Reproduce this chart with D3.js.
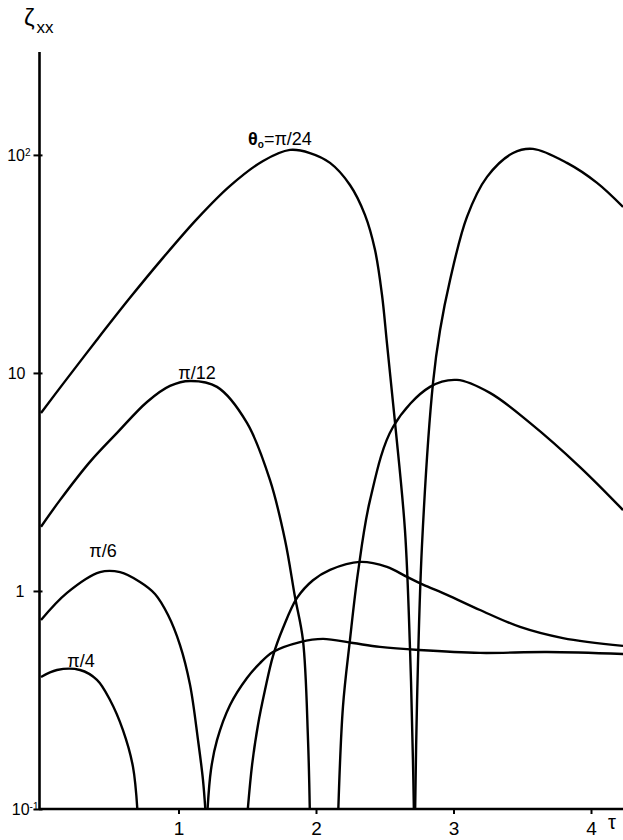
<!DOCTYPE html>
<html>
<head>
<meta charset="utf-8">
<script src="https://cdn.jsdelivr.net/npm/d3@7"></script>
<style>
  html, body { margin: 0; padding: 0; background: #fff; }
  svg { display: block; }
  text { font-family: "Liberation Sans Narrow", "Liberation Sans", Arial, sans-serif; fill: #000; }
</style>
</head>
<body>
<script>
// ---- Data ----
// theta0 = pi/24, first lobe
const tauPi24a  = [0, 0.16, 0.407, 0.647, 0.887, 1.135, 1.375, 1.615, 1.811, 1.956, 2.102, 2.247, 2.356, 2.429, 2.48, 2.516, 2.575, 2.647, 2.684, 2.705, 2.713];
const zetaPi24a = [6.55, 8.91, 14.2, 22.1, 33.7, 50.9, 72.1, 93.8, 105.4, 102, 91.9, 72.8, 53.1, 36.7, 22.8, 13.7, 5.9, 1.9, 0.536, 0.168, 0.09];
// theta0 = pi/24, second lobe
const tauPi24b  = [2.72, 2.735, 2.771, 2.851, 2.902, 2.975, 3.098, 3.244, 3.433, 3.578, 3.825, 4.044, 4.233];
const zetaPi24b = [0.09, 0.316, 1.63, 9.0, 15.7, 26.7, 52, 79.3, 102, 106.6, 91.9, 74.4, 57.7];
// theta0 = pi/12
const tauPi12a  = [0, 0.138, 0.356, 0.553, 0.771, 0.938, 1.084, 1.28, 1.498, 1.665, 1.775, 1.847, 1.905, 1.942, 1.956];
const zetaPi12a = [1.97, 2.61, 3.91, 5.31, 7.36, 8.72, 9.19, 8.63, 5.9, 3.23, 1.71, 0.94, 0.596, 0.207, 0.09];
const tauPi12b  = [2.16, 2.196, 2.247, 2.305, 2.393, 2.56, 2.829, 3.025, 3.265, 3.556, 3.92, 4.233];
const zetaPi12b = [0.09, 0.294, 0.596, 1.21, 2.61, 5.65, 8.63, 9.29, 8.1, 5.9, 3.7, 2.35];
// theta0 = pi/6
const tauPi6a   = [0, 0.189, 0.429, 0.575, 0.72, 0.829, 0.924, 1.011, 1.084, 1.142, 1.178, 1.2];
const zetaPi6a  = [0.736, 0.98, 1.22, 1.22, 1.10, 0.969, 0.776, 0.565, 0.371, 0.207, 0.136, 0.09];
const tauPi6b   = [1.207, 1.236, 1.28, 1.375, 1.498, 1.593, 1.687, 1.884, 2.051, 2.269, 2.465, 2.749, 3.193, 3.68, 4.233];
const zetaPi6b  = [0.09, 0.151, 0.207, 0.3, 0.399, 0.467, 0.525, 0.583, 0.603, 0.577, 0.554, 0.536, 0.52, 0.525, 0.514];
// theta0 = pi/4
const tauPi4a   = [0, 0.116, 0.284, 0.407, 0.502, 0.596, 0.669, 0.705];
const zetaPi4a  = [0.403, 0.434, 0.434, 0.391, 0.316, 0.23, 0.156, 0.09];
const tauPi4b   = [1.498, 1.535, 1.578, 1.629, 1.687, 1.76, 1.862, 1.978, 2.102, 2.32, 2.516, 2.662, 2.778, 2.953, 3.193, 3.484, 3.796, 4.233];
const zetaPi4b  = [0.09, 0.159, 0.243, 0.351, 0.503, 0.676, 0.929, 1.12, 1.25, 1.36, 1.29, 1.16, 1.07, 0.96, 0.818, 0.684, 0.608, 0.56];

// Curve labels (anchored in data coordinates)
const labelText = ["π/24", "π/12", "π/6", "π/4"];
const labelTau  = [1.738, 1.135, 0.451, 0.291];
const labelZeta = [111, 9.38, 1.43, 0.448];

// Axis ticks
const xTicks = [1, 2, 3, 4];
const xTickLabels = ["1", "2", "3", "4"];
const yTicks = [0.1, 1, 10, 100];
const yTickBase = ["10", "1", "10", "10"];
const yTickSup  = ["-1", "", "", "2"];

// ---- Drawing ----
const W = 623, H = 840;
const svg = d3.select("body").append("svg").attr("width", W).attr("height", H);

const x = d3.scaleLinear().domain([0, 4.24]).range([41, 624]);
const y = d3.scaleLog().domain([0.1, Math.pow(10, 2.472)]).range([809, 52]);

svg.append("defs").append("clipPath").attr("id", "plot")
  .append("rect").attr("x", 40).attr("y", 40).attr("width", W - 40).attr("height", 809 - 40);

const line = d3.line()
  .x(d => x(d[0]))
  .y(d => y(d[1]))
  .curve(d3.curveCatmullRom.alpha(0.5));

const series = [
  [tauPi24a, zetaPi24a], [tauPi24b, zetaPi24b],
  [tauPi12a, zetaPi12a], [tauPi12b, zetaPi12b],
  [tauPi6a, zetaPi6a],   [tauPi6b, zetaPi6b],
  [tauPi4a, zetaPi4a],   [tauPi4b, zetaPi4b]
];

const g = svg.append("g").attr("clip-path", "url(#plot)");
series.forEach(([t, z]) => {
  g.append("path")
    .datum(t.map((v, i) => [v, z[i]]))
    .attr("d", line)
    .attr("fill", "none")
    .attr("stroke", "#000")
    .attr("stroke-width", 2.4)
    .attr("stroke-linejoin", "round");
});

// X axis
const xAxis = d3.axisBottom(x).tickValues(xTicks).tickFormat((d, i) => xTickLabels[i]).tickSize(5).tickPadding(8);
const xg = svg.append("g").attr("transform", "translate(0,809)").call(xAxis);
xg.select(".domain").remove();
xg.selectAll(".tick line").attr("stroke", "#000").attr("stroke-width", 2);
xg.selectAll(".tick text").attr("font-size", 19).attr("fill", "#000")
  .style("font-family", '"Liberation Sans Narrow", "Liberation Sans", Arial, sans-serif');
svg.append("line").attr("x1", 39).attr("x2", W).attr("y1", 809).attr("y2", 809)
  .attr("stroke", "#000").attr("stroke-width", 2.6);

// Y axis
const yAxis = d3.axisLeft(y).tickValues(yTicks).tickFormat("").tickSize(0);
const yg = svg.append("g").attr("transform", "translate(39.5,0)").call(yAxis);
yg.select(".domain").remove();
yg.selectAll(".tick").append("line").attr("x1", -6).attr("x2", 3)
  .attr("stroke", "#000").attr("stroke-width", 2);
const yLabelX = [-1, -15, -14, -9];
yg.selectAll(".tick").each(function(d, i) {
  const t = d3.select(this).append("text")
    .attr("x", yLabelX[i])
    .attr("dy", "0.36em")
    .attr("text-anchor", "end")
    .attr("font-size", 16);
  t.append("tspan").text(yTickBase[i]);
  if (yTickSup[i]) {
    t.append("tspan").attr("dy", "-0.5em").attr("font-size", 10).text(yTickSup[i]);
  }
});
svg.append("line").attr("x1", 39.5).attr("x2", 39.5).attr("y1", 52).attr("y2", 810)
  .attr("stroke", "#000").attr("stroke-width", 2.6);

// Axis titles
const yt = svg.append("text").attr("x", 24).attr("y", 26).attr("font-size", 24);
yt.append("tspan").text("ζ");
yt.append("tspan").attr("dy", 7).attr("dx", 2).attr("font-size", 17).text("xx");
svg.append("text").attr("x", 612).attr("y", 829).attr("text-anchor", "middle")
  .attr("font-size", 20).text("τ");

// Curve labels
labelText.forEach((s, i) => {
  const t = svg.append("text")
    .attr("x", x(labelTau[i])).attr("y", y(labelZeta[i]))
    .attr("text-anchor", "middle").attr("font-size", 18);
  if (i === 0) {
    t.append("tspan").attr("font-weight", "bold").text("θ");
    t.append("tspan").attr("font-size", 10).attr("dy", 3).attr("font-weight", "bold").text("o");
    t.append("tspan").attr("dy", -3).text("=" + s);
  } else {
    t.text(s);
  }
});
</script>
</body>
</html>
